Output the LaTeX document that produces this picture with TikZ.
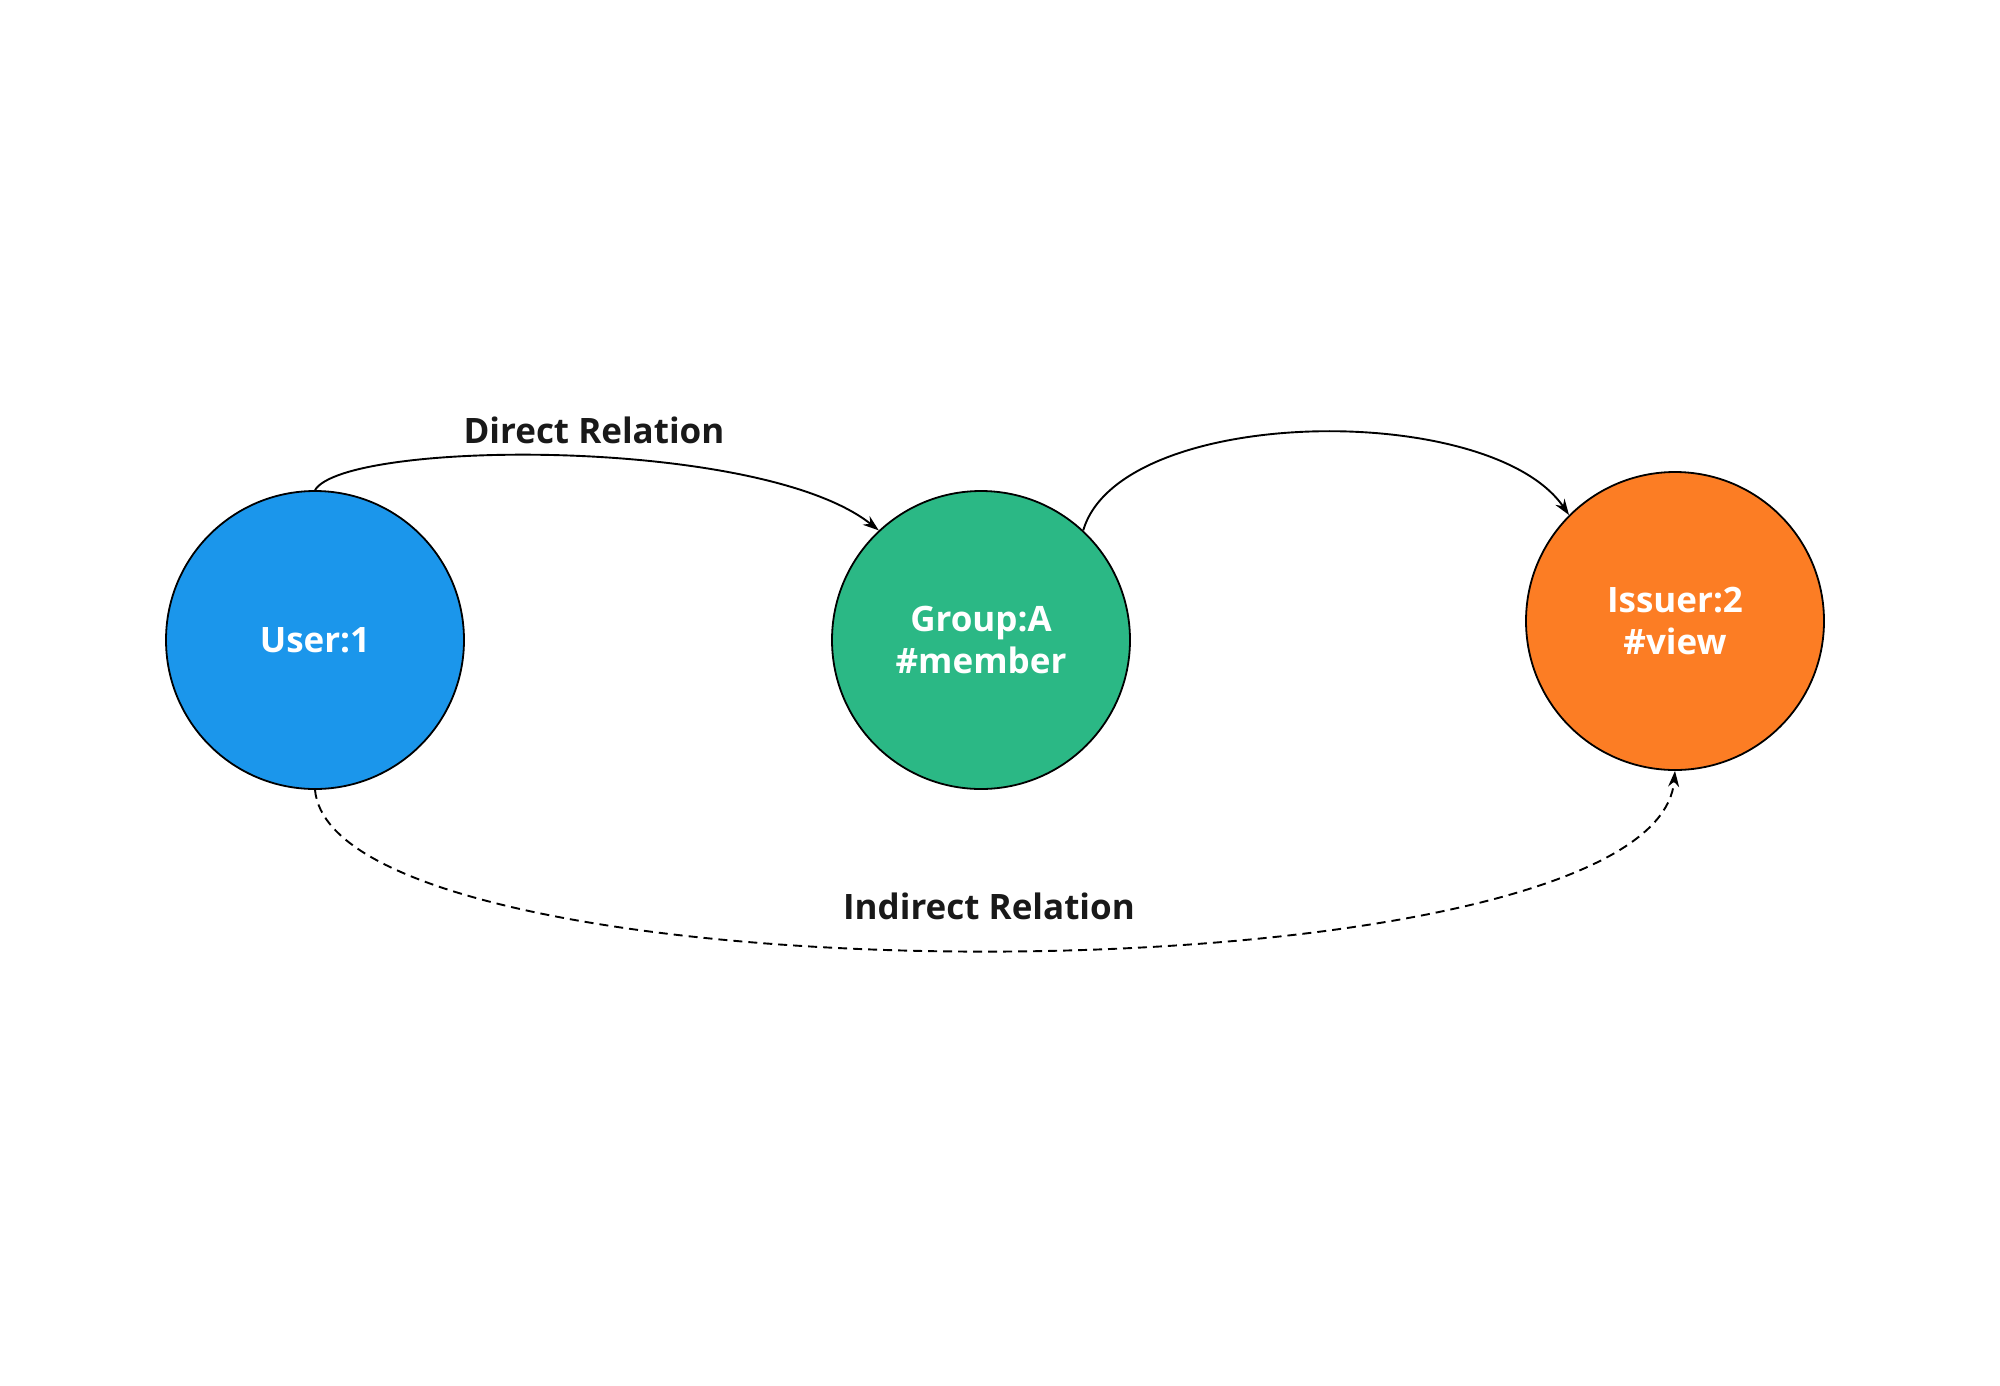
\documentclass[tikz,border=0pt]{standalone}
\usepackage{fontspec}
\setmainfont{Open Sans}
\usetikzlibrary{arrows.meta}
\definecolor{userblue}{RGB}{27,150,235}
\definecolor{groupgreen}{RGB}{43,184,133}
\definecolor{issorange}{RGB}{252,125,36}
\begin{document}
\begin{tikzpicture}[x=1pt,y=-1pt,
  entity/.style={circle,draw=black,line width=1.8pt,minimum size=298pt,inner sep=0pt,
    text=white,font=\bfseries\fontsize{35}{42}\selectfont,align=center},
  rel/.style={line width=1.9pt,-{Stealth[length=16pt,width=11pt]}},
  lbl/.style={font=\bfseries\fontsize{35}{40}\selectfont,text=black!90}]
\useasboundingbox (0,0) rectangle (2000,1385);
\fill[white] (0,0) rectangle (2000,1385);
\node[entity,fill=userblue] (user) at (315,640) {User:1};
\node[entity,fill=groupgreen] (group) at (981,640) {Group:A\\\#member};
\node[entity,fill=issorange] (issuer) at (1675,621) {Issuer:2\\\#view};
\draw[rel] (user.north) .. controls (345,440) and (760,436) .. (group.133);
\draw[rel] (group.47) .. controls (1120,405) and (1490,400) .. (issuer.135);
\draw[rel,dash pattern=on 9pt off 6pt] (user.south) .. controls (335,1007) and (1655,1007) .. (issuer.south);
\node[lbl] (direct) at (594,430) {Direct Relation};
\node[lbl] (indirect) at (989,906) {Indirect Relation};
\end{tikzpicture}
\end{document}
